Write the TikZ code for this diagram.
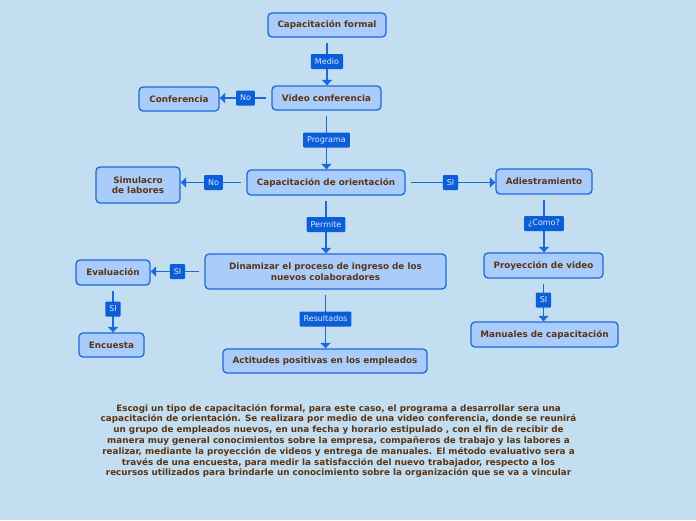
\documentclass[tikz,border=0pt]{standalone}
\usepackage{fontspec}
\setmainfont{DejaVu Sans}
\usetikzlibrary{arrows.meta}
\definecolor{bg}{HTML}{C3DDF1}
\definecolor{boxfill}{HTML}{A9CCFA}
\definecolor{boxline}{HTML}{1B6AD9}
\definecolor{lblfill}{HTML}{0B5ED7}
\definecolor{lbltext}{HTML}{DCEBFF}
\definecolor{txt}{HTML}{5B3512}
\begin{document}
\begin{tikzpicture}[x=1pt,y=-1pt,
  box/.style={draw=boxline, fill=boxfill, line width=1.3pt, rounded corners=4pt,
    text=txt, font=\fontsize{8.8}{10.5}\selectfont\bfseries, align=center, inner sep=2pt, minimum height=24pt},
  lbl/.style={fill=lblfill, text=lbltext, font=\fontsize{8}{9}\selectfont, rounded corners=1pt,
    inner xsep=4pt, inner ysep=0pt, minimum height=15pt, midway},
  conn/.style={draw=boxline, line width=1.9pt, shorten <=5pt, -{Triangle[width=10pt,length=5.5pt]}}]
\useasboundingbox[fill=bg] (0,0) rectangle (696,520);

\node[box, minimum width=118pt] (cf) at (327,25) {Capacitación formal};
\node[box, minimum width=109pt] (vc) at (326.5,98) {Video conferencia};
\node[box, minimum width=80pt] (con) at (179,99) {Conferencia};
\node[box, minimum width=158pt, minimum height=25pt] (co) at (326,182.5) {Capacitación de orientación};
\node[box, minimum width=84pt, minimum height=36pt] (sim) at (138,185) {Simulacro\\de labores};
\node[box, minimum width=96pt, minimum height=25pt] (adi) at (544,181.5) {Adiestramiento};
\node[box, minimum width=119pt, minimum height=25pt] (pro) at (543.5,265.5) {Proyección de video};
\node[box, minimum width=147pt, minimum height=25pt] (man) at (544.5,334.5) {Manuales de capacitación};
\node[box, minimum width=241pt, minimum height=35pt] (din) at (325.5,271.5) {Dinamizar el proceso de ingreso de los\\nuevos colaboradores};
\node[box, minimum width=74pt, minimum height=25pt] (eva) at (113,272.5) {Evaluación};
\node[box, minimum width=65pt] (enc) at (111.5,345) {Encuesta};
\node[box, minimum width=204pt] (act) at (325,361) {Actitudes positivas en los empleados};

\draw[conn] (cf.south) -- node[lbl]{Medio} (cf.south |- vc.north);
\draw[conn] (vc.west) -- node[lbl]{No} (vc.west -| con.east);
\draw[conn] (vc.south) -- node[lbl]{Programa} (vc.south |- co.north);
\draw[conn] (co.west) -- node[lbl]{No} (co.west -| sim.east);
\draw[conn] (co.east) -- node[lbl]{SI} (co.east -| adi.west);
\draw[conn] (adi.south) -- node[lbl]{¿Como?} (adi.south |- pro.north);
\draw[conn] (pro.south) -- node[lbl]{SI} (pro.south |- man.north);
\draw[conn] (co.south) -- node[lbl]{Permite} (co.south |- din.north);
\draw[conn] (din.west) -- node[lbl]{SI} (din.west -| eva.east);
\draw[conn] (eva.south) -- node[lbl]{SI} (eva.south |- enc.north);
\draw[conn] (din.south) -- node[lbl]{Resultados} (din.south |- act.north);

\node[text=txt, font=\fontsize{8.8}{10.8}\selectfont\bfseries, align=center, inner sep=0pt] (desc) at (338.5,441) {Escogi un tipo de capacitación formal, para este caso, el programa a desarrollar sera una\\
capacitación de orientación. Se realizara por medio de una video conferencia, donde se reunirá\\
un grupo de empleados nuevos, en una fecha y horario estipulado , con el fin de recibir de\\
manera muy general conocimientos sobre la empresa, compañeros de trabajo y las labores a\\
realizar, mediante la proyección de videos y entrega de manuales. El método evaluativo sera a\\
través de una encuesta, para medir la satisfacción del nuevo trabajador, respecto a los\\
recursos utilizados para brindarle un conocimiento sobre la organización que se va a vincular};
\end{tikzpicture}
\end{document}
